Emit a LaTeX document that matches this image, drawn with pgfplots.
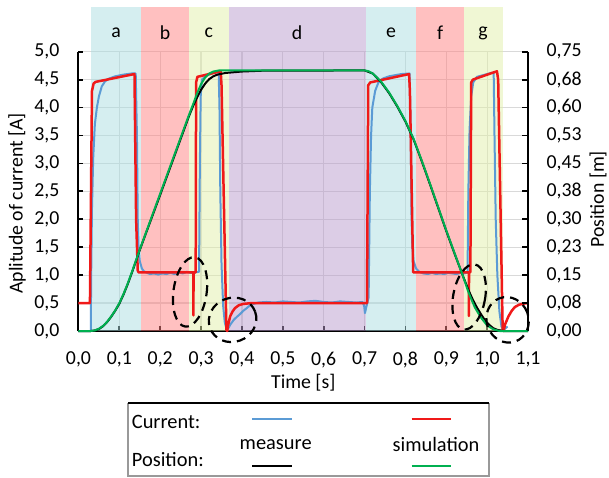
\documentclass[border=0pt]{standalone}
\usepackage{pgfplots}
\pgfplotsset{compat=1.18}
\usepackage{fontspec}
\setmainfont{Carlito}
\definecolor{bandA}{RGB}{171,221,225}
\definecolor{bandB}{RGB}{255,129,129}
\definecolor{bandC}{RGB}{225,239,169}
\definecolor{bandD}{RGB}{185,155,205}
\definecolor{curmeas}{RGB}{91,155,213}
\definecolor{cursim}{RGB}{240,25,25}
\definecolor{possim}{RGB}{0,176,80}
\begin{document}
\begin{tikzpicture}
\pgfplotsset{every axis/.append style={font=\fontsize{9.9}{11.5}\selectfont}}
\begin{axis}[
  at={(0,0)}, anchor=south west,
  scale only axis, width=224.75pt, height=139.65pt,
  xmin=0, xmax=1.1, ymin=0, ymax=5,
  axis x line*=bottom, axis y line*=left,
  xtick={0,0.1,0.2,0.3,0.4,0.5,0.6,0.7,0.8,0.9,1.0,1.1},
  ytick={0,0.5,1,1.5,2,2.5,3,3.5,4,4.5,5},
  grid=major, major grid style={draw=black!15, line width=0.6pt},
  tick align=inside, major tick length=2.5pt,
  tick style={black, line width=0.9pt},
  axis line style={black, line width=1pt, -},
  /pgf/number format/fixed,
  /pgf/number format/fixed zerofill,
  /pgf/number format/precision=1,
  /pgf/number format/use comma,
  /pgf/number format/assume math mode=true,
  xticklabel style={yshift=-7pt},
  yticklabel style={xshift=-6pt},
  xlabel={Time [s]},
  xlabel style={at={([yshift=-26pt]axis description cs:0.5,0)}, anchor=center},
  ylabel={Aplitude of current [A]},
  ylabel style={at={([xshift=-30.75pt,yshift=-6pt]axis description cs:0,0.5)}, anchor=center},
  clip=false,
]
% bands
\fill[bandA, fill opacity=0.5] (axis cs:0.0306,0) rectangle (axis cs:0.154,5.8);
\fill[bandB, fill opacity=0.5] (axis cs:0.154,0) rectangle (axis cs:0.270,5.8);
\fill[bandC, fill opacity=0.5] (axis cs:0.270,0) rectangle (axis cs:0.368,5.8);
\fill[bandD, fill opacity=0.5] (axis cs:0.368,0) rectangle (axis cs:0.703,5.8);
\fill[bandA, fill opacity=0.5] (axis cs:0.703,0) rectangle (axis cs:0.826,5.8);
\fill[bandB, fill opacity=0.5] (axis cs:0.826,0) rectangle (axis cs:0.943,5.8);
\fill[bandC, fill opacity=0.5] (axis cs:0.943,0) rectangle (axis cs:1.038,5.8);
\node at (axis cs:0.092,5.335) {a};
\node at (axis cs:0.212,5.335) {b};
\node at (axis cs:0.319,5.335) {c};
\node at (axis cs:0.535,5.335) {d};
\node at (axis cs:0.765,5.335) {e};
\node at (axis cs:0.885,5.335) {f};
\node at (axis cs:0.990,5.335) {g};
% measured current
\addplot[curmeas, line width=1pt, line join=round] coordinates {
(0,0) (0.030,0) (0.031,1.0) (0.033,2.2) (0.036,3.1) (0.040,3.7) (0.045,4.0) (0.050,4.2)
(0.057,4.38) (0.065,4.47) (0.075,4.52) (0.090,4.56) (0.110,4.59) (0.130,4.61) (0.140,4.61)
(0.143,3.5) (0.145,2.0) (0.147,1.5) (0.150,1.25) (0.155,1.12) (0.160,1.07) (0.168,1.04)
(0.175,1.02) (0.185,1.03) (0.195,1.01) (0.205,1.03) (0.215,1.02) (0.225,1.04) (0.235,1.02)
(0.245,1.05) (0.255,1.03) (0.265,1.06) (0.275,1.04) (0.285,1.05) (0.295,1.06)
(0.297,3.0) (0.299,4.2) (0.302,4.5) (0.310,4.56) (0.330,4.62) (0.343,4.64)
(0.345,4.0) (0.347,2.5) (0.350,1.2) (0.354,0.45) (0.358,0.15) (0.362,0.05) (0.366,0.04)
(0.372,0.12) (0.380,0.20) (0.387,0.25) (0.395,0.30) (0.403,0.36) (0.410,0.40) (0.420,0.46)
(0.430,0.49) (0.440,0.51) (0.460,0.52) (0.480,0.51) (0.500,0.53) (0.520,0.52) (0.540,0.51)
(0.560,0.53) (0.580,0.54) (0.600,0.52) (0.620,0.51) (0.640,0.53) (0.660,0.52) (0.680,0.51)
(0.695,0.52) (0.699,0.45) (0.701,0.32) (0.704,0.42) (0.710,0.60)
(0.713,2.5) (0.716,3.5) (0.719,4.0) (0.726,4.3) (0.734,4.45) (0.745,4.52) (0.760,4.56)
(0.790,4.60) (0.810,4.61) (0.813,3.5) (0.815,2.0) (0.817,1.5) (0.820,1.25) (0.826,1.12)
(0.834,1.06) (0.844,1.03) (0.855,1.02) (0.865,1.04) (0.875,1.02) (0.885,1.03) (0.895,1.02)
(0.905,1.04) (0.915,1.03) (0.925,1.02) (0.935,1.04) (0.945,1.03) (0.952,1.05)
(0.954,2.5) (0.957,3.6) (0.961,4.2) (0.966,4.45) (0.975,4.55) (0.990,4.58) (1.010,4.62)
(1.016,4.62) (1.018,3.5) (1.021,2.0) (1.025,1.0) (1.030,0.35) (1.035,0.08) (1.040,0.02)
(1.045,0.05) (1.050,0.08)
};
% simulated current
\addplot[cursim, line width=1.25pt, line join=round] coordinates {
(0,0.5) (0.028,0.5) (0.033,4.3) (0.037,4.43) (0.042,4.46) (0.137,4.6) (0.141,2.0)
(0.145,1.08) (0.147,1.05) (0.281,1.05) (0.2812,0.28) (0.2816,1.05) (0.2868,1.05)
(0.2878,4.45) (0.291,4.55) (0.348,4.65) (0.350,4.4) (0.362,0.02) (0.364,0.0)
(0.366,0.10) (0.371,0.26) (0.377,0.35) (0.383,0.41) (0.392,0.46) (0.403,0.485)
(0.420,0.497) (0.440,0.5) (0.706,0.5) (0.709,4.4) (0.714,4.45) (0.809,4.6) (0.811,4.3)
(0.819,1.05) (0.955,1.05) (0.9553,0.27) (0.9557,1.05) (0.959,1.05) (0.961,4.45)
(0.965,4.5) (1.024,4.65) (1.027,4.5) (1.038,0.02) (1.040,0.0) (1.044,0.12) (1.052,0.26)
(1.060,0.36) (1.068,0.43) (1.078,0.47) (1.089,0.49) (1.100,0.5)
};
\end{axis}
\begin{axis}[
  at={(0,0)}, anchor=south west,
  scale only axis, width=224.75pt, height=139.65pt,
  xmin=0, xmax=1.1, ymin=0, ymax=0.75,
  axis x line=none, axis y line*=right,
  ytick={0,0.075,0.15,0.225,0.3,0.375,0.45,0.525,0.6,0.675,0.75},
  yticklabels={{0,00},{0,08},{0,15},{0,23},{0,30},{0,38},{0,45},{0,53},{0,60},{0,68},{0,75}},
  tick align=inside, major tick length=3pt,
  tick style={black, line width=0.9pt},
  axis line style={black, line width=1pt, -},
  yticklabel style={xshift=5.8pt},
  ylabel={Position [m]},
  ylabel style={at={([xshift=35pt,yshift=-4pt]axis description cs:1,0.5)}, anchor=center},
  clip=false,
]
% measured position
\addplot[black, line width=1pt, line join=round] coordinates {
(0,0) (0.03,0) (0.04,0.0015) (0.05,0.0053) (0.06,0.0128) (0.07,0.024) (0.08,0.0383)
(0.09,0.0548) (0.10,0.0735) (0.11,0.0975) (0.12,0.1245) (0.13,0.1545) (0.14,0.186)
(0.15,0.2175) (0.16,0.2475) (0.20,0.366) (0.24,0.486) (0.27,0.576) (0.28,0.603)
(0.29,0.627) (0.30,0.648) (0.31,0.6645) (0.32,0.6765) (0.33,0.684) (0.34,0.6885)
(0.36,0.693) (0.40,0.6968) (0.45,0.699) (0.70,0.6998) (0.72,0.6915) (0.74,0.669)
(0.76,0.639) (0.78,0.603) (0.80,0.5625) (0.82,0.5145) (0.84,0.456) (0.86,0.3945)
(0.88,0.3315) (0.90,0.2685) (0.92,0.2085) (0.94,0.15) (0.955,0.108) (0.965,0.084)
(0.975,0.063) (0.985,0.045) (0.995,0.0285) (1.005,0.0165) (1.015,0.0075) (1.025,0.003)
(1.04,0) (1.1,0)
};
% simulated position
\addplot[possim, line width=1pt, line join=round] coordinates {
(0,0) (0.03,0) (0.04,0.0015) (0.05,0.006) (0.06,0.0135) (0.07,0.0248) (0.08,0.039)
(0.09,0.0555) (0.10,0.075) (0.11,0.099) (0.12,0.126) (0.13,0.156) (0.14,0.1875)
(0.15,0.219) (0.16,0.249) (0.20,0.369) (0.24,0.489) (0.27,0.579) (0.28,0.6075)
(0.29,0.6375) (0.30,0.663) (0.31,0.681) (0.32,0.6915) (0.33,0.6968) (0.345,0.7)
(0.70,0.7) (0.71,0.6975) (0.72,0.6915) (0.74,0.6705) (0.76,0.6405) (0.78,0.6045)
(0.80,0.564) (0.82,0.516) (0.84,0.4575) (0.86,0.396) (0.88,0.333) (0.90,0.27)
(0.92,0.21) (0.94,0.15) (0.955,0.102) (0.97,0.063) (0.985,0.036) (1.0,0.015)
(1.015,0.0045) (1.03,0) (1.1,0)
};
% dashed ellipses
\draw[black, line width=1.1pt, dash pattern=on 4.5pt off 3pt] (axis cs:0.273,0.105) circle [x radius=8.3pt, y radius=17.5pt, rotate=-8];
\draw[black, line width=1.1pt, dash pattern=on 4.5pt off 3pt] (axis cs:0.377,0.03) circle [x radius=12pt, y radius=11pt, rotate=20];
\draw[black, line width=1.1pt, dash pattern=on 4.5pt off 3pt] (axis cs:0.956,0.0915) circle [x radius=8pt, y radius=16.5pt, rotate=-10];
\draw[black, line width=1.1pt, dash pattern=on 4.5pt off 3pt] (axis cs:1.05,0.03) circle [x radius=10.5pt, y radius=11.5pt, rotate=20];
\end{axis}
% legend
\begin{scope}[font=\fontsize{10.2}{12}\selectfont]
\draw[black!40, line width=0.6pt] (24.75pt,-36pt) -- (24.75pt,-72.5pt) -- (205.25pt,-72.5pt) -- (205.25pt,-36pt);
\draw[black, line width=1pt] (24.75pt,-36pt) -- (205.25pt,-36pt);
\node[anchor=west, inner sep=0pt] at (26.5pt,-45.35pt) {Current:};
\node[anchor=west, inner sep=0pt] at (26.5pt,-64.5pt) {Position:};
\node[inner sep=0pt] at (98.6pt,-56.8pt) {measure};
\node[inner sep=0pt] at (178.75pt,-56.8pt) {simulation};
\draw[curmeas, line width=1pt] (86.9pt,-44.15pt) -- (106.6pt,-44.15pt);
\draw[cursim, line width=1pt] (166.6pt,-44.15pt) -- (186.25pt,-44.15pt);
\draw[black, line width=1pt] (86.9pt,-67.5pt) -- (106.6pt,-67.5pt);
\draw[possim, line width=1pt] (166.6pt,-67.5pt) -- (186.25pt,-67.5pt);
\end{scope}
\pgfresetboundingbox
\path[use as bounding box] (-39.25pt,-73pt) rectangle (265.25pt,165.5pt);
\end{tikzpicture}
\end{document}
